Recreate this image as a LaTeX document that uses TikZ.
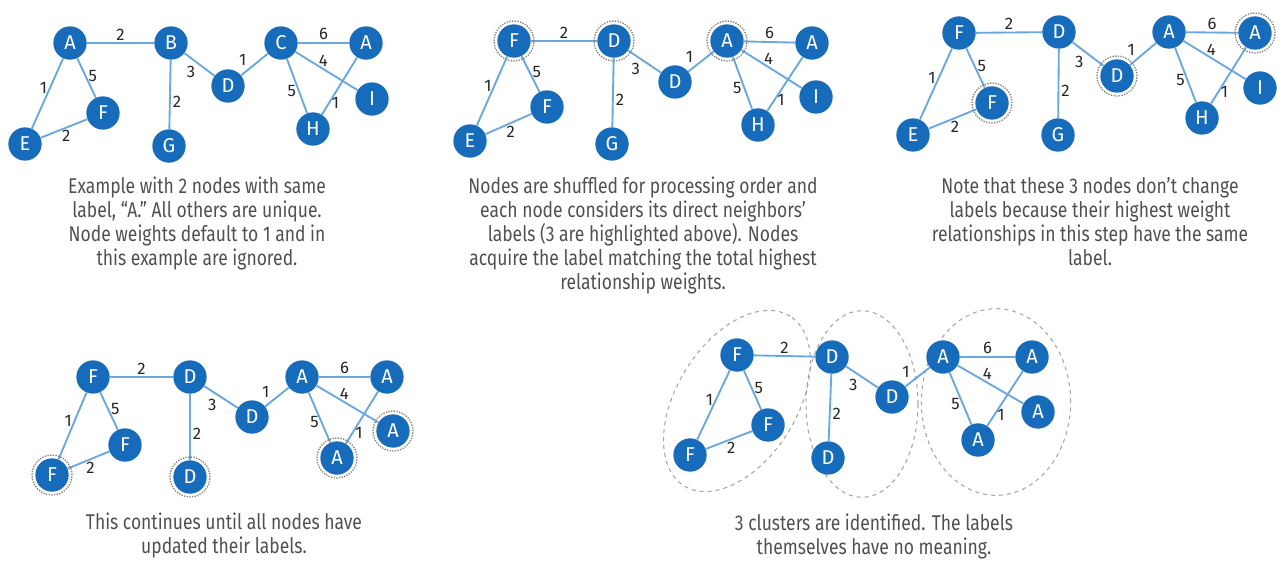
\documentclass[tikz,border=0pt]{standalone}
\usepackage{fontspec}
\setmainfont{Fira Sans}
\newfontfamily\capfont[FakeStretch=0.82]{Fira Sans}
\definecolor{nodeblue}{RGB}{22,108,186}
\definecolor{edgeblue}{RGB}{105,168,222}
\definecolor{capgray}{RGB}{80,80,80}
\tikzset{
  vertex/.style={shape=circle, fill=nodeblue, text=white, minimum size=25pt, inner sep=0pt,
    font=\fontsize{15}{15}\selectfont},
  link/.style={draw=edgeblue, line width=1.4pt},
  wt/.style={text=black!85, inner sep=1.5pt, font=\fontsize{12.5}{12.5}\selectfont},
  ring/.style={draw=gray, densely dotted, line width=1pt},
  cluster/.style={draw=gray!70, dashed, line width=0.8pt},
  note/.style={align=center, anchor=north, text=capgray, inner sep=0pt,
    font=\capfont\fontsize{16}{18}\selectfont}}
% the same eleven weighted edges in every panel
\newcommand{\lpaedges}{%
  \draw[link] (a) -- (b) node[wt, midway, above] {2};
  \draw[link] (b) -- (d) node[wt, pos=.45, below left] {3};
  \draw[link] (d) -- (c) node[wt, pos=.3, above left] {1};
  \draw[link] (c) -- (a2) node[wt, midway, above] {6};
  \draw[link] (c) -- (i) node[wt, pos=.45, above] {4};
  \draw[link] (c) -- (h) node[wt, pos=.6, left] {5};
  \draw[link] (h) -- (a2) node[wt, pos=.2, right] {1};
  \draw[link] (a) -- (e) node[wt, pos=.42, left] {1};
  \draw[link] (a) -- (f) node[wt, pos=.45, right] {5};
  \draw[link] (e) -- (f) node[wt, pos=.55, below] {2};
  \draw[link] (b) -- (g) node[wt, pos=.6, right] {2};}

\begin{document}
\begin{tikzpicture}[x=0.75pt, y=-0.75pt]
\useasboundingbox (0,0) rectangle (1288,565);

% initial labels
\begin{scope}[name prefix=p1-]
  \node[vertex] (a) at (70,43) {A};
  \node[vertex] (b) at (171,43) {B};
  \node[vertex] (c) at (281,43) {C};
  \node[vertex] (a2) at (366,43) {A};
  \node[vertex] (d) at (228,86) {D};
  \node[vertex] (f) at (103,113) {F};
  \node[vertex] (e) at (25,144) {E};
  \node[vertex] (g) at (169,146) {G};
  \node[vertex] (h) at (313,129) {H};
  \node[vertex] (i) at (372,99) {I};
  \lpaedges
  \node[note] (t) at (197,177) {Example with 2 nodes with same\\label, “A.” All others are unique.\\Node weights default to 1 and in\\this example are ignored.};
\end{scope}

% first step
\begin{scope}[name prefix=p2-]
  \node[vertex] (a) at (514,41) {F};
  \node[vertex] (b) at (614,41) {D};
  \node[vertex] (c) at (727,41) {A};
  \node[vertex] (a2) at (812,43) {A};
  \node[vertex] (d) at (675,82) {D};
  \node[vertex] (f) at (547,107) {F};
  \node[vertex] (e) at (470,141) {E};
  \node[vertex] (g) at (612,144) {G};
  \node[vertex] (h) at (758,125) {H};
  \node[vertex] (i) at (816,97) {I};
  \lpaedges
  \draw[ring] (a) circle (15pt);
  \draw[ring] (b) circle (15pt);
  \draw[ring] (c) circle (15pt);
  \node[note] (t) at (643,177) {Nodes are shuffled for processing order and\\each node considers its direct neighbors’\\labels (3 are highlighted above). Nodes\\acquire the label matching the total highest\\relationship weights.};
\end{scope}

% unchanged nodes
\begin{scope}[name prefix=p3-]
  \node[vertex] (a) at (959,33) {F};
  \node[vertex] (b) at (1059,32) {D};
  \node[vertex] (c) at (1169,32) {A};
  \node[vertex] (a2) at (1255,33) {A};
  \node[vertex] (d) at (1117,76) {D};
  \node[vertex] (f) at (992,103) {F};
  \node[vertex] (e) at (913,135) {E};
  \node[vertex] (g) at (1058,135) {G};
  \node[vertex] (h) at (1202,118) {H};
  \node[vertex] (i) at (1260,88) {I};
  \lpaedges
  \draw[ring] (d) circle (15pt);
  \draw[ring] (f) circle (15pt);
  \draw[ring] (a2) circle (15pt);
  \node[note] (t) at (1090,177) {Note that these 3 nodes don’t change\\labels because their highest weight\\relationships in this step have the same\\label.};
\end{scope}

% all labels updated
\begin{scope}[name prefix=p4-]
  \node[vertex] (a) at (93,377) {F};
  \node[vertex] (b) at (190,377) {D};
  \node[vertex] (c) at (302,377) {A};
  \node[vertex] (a2) at (387,377) {A};
  \node[vertex] (d) at (252,417) {D};
  \node[vertex] (f) at (125,445) {F};
  \node[vertex] (e) at (52,475) {F};
  \node[vertex] (g) at (190,477) {D};
  \node[vertex] (h) at (337,458) {A};
  \node[vertex] (i) at (393,431) {A};
  \lpaedges
  \draw[ring] (e) circle (15pt);
  \draw[ring] (g) circle (15pt);
  \draw[ring] (h) circle (15pt);
  \draw[ring] (i) circle (15pt);
  \node[note] (t) at (224,513) {This continues until all nodes have\\updated their labels.};
\end{scope}

% clusters
\begin{scope}[name prefix=p5-]
  \draw[cluster, rotate around={58:(737,401)}] (737,401) ellipse [x radius=75pt, y radius=45pt];
  \draw[cluster] (862,404) ellipse [x radius=42pt, y radius=70pt];
  \draw[cluster] (996,402) ellipse [x radius=56pt, y radius=70pt];
  \node[vertex] (a) at (737,355) {F};
  \node[vertex] (b) at (832,357) {D};
  \node[vertex] (c) at (943,357) {A};
  \node[vertex] (a2) at (1032,357) {A};
  \node[vertex] (d) at (892,397) {D};
  \node[vertex] (f) at (768,425) {F};
  \node[vertex] (e) at (690,455) {F};
  \node[vertex] (g) at (828,458) {D};
  \node[vertex] (h) at (978,440) {A};
  \node[vertex] (i) at (1038,412) {A};
  \lpaedges
  \node[note] (t) at (874,514) {3 clusters are identified. The labels\\themselves have no meaning.};
\end{scope}

\end{tikzpicture}
\end{document}
